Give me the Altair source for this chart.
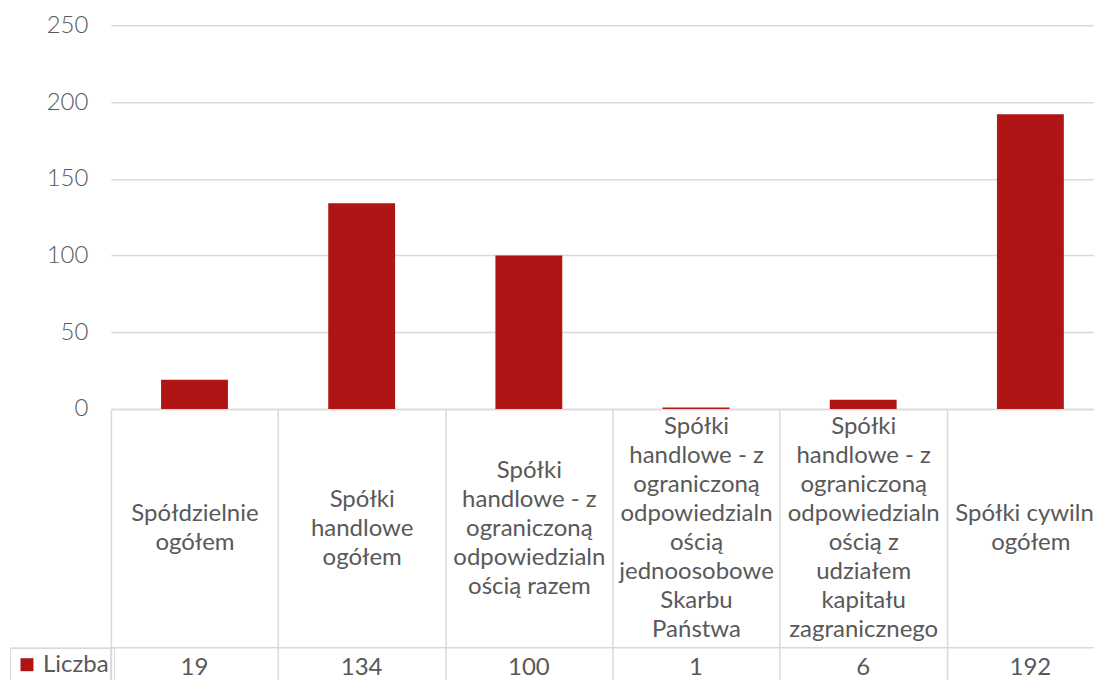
import altair as alt
import pandas as pd

# ---- data ----
categories = [
    ["Spółdzielnie", "ogółem"],
    ["Spółki", "handlowe", "ogółem"],
    ["Spółki", "handlowe - z", "ograniczoną", "odpowiedzialn", "ością razem"],
    ["Spółki", "handlowe - z", "ograniczoną", "odpowiedzialn", "ością",
     "jednoosobowe", "Skarbu", "Państwa"],
    ["Spółki", "handlowe - z", "ograniczoną", "odpowiedzialn", "ością z",
     "udziałem", "kapitału", "zagranicznego"],
    ["Spółki cywilne", "ogółem"],
]
values = [19, 134, 100, 1, 6, 192]
series_name = "Liczba"
y_ticks = [0, 50, 100, 150, 200, 250]

cat_keys = ["|".join(c) for c in categories]
df = pd.DataFrame({"cat": cat_keys, "value": values, "series": series_name})

# ---- styling ----
GREY = "#595959"
LINE = "#d9d9d9"
RED = "#b01515"
FONT = "Lato"
FS = 24
LH = 29
W = 1004      # plot width (extends past the window, as in the reference)
H = 384       # plot height
CELL = 239    # category-label cell height
ROW = 40      # value row height
LEFT = 101    # width of the "Liczba" cell

band = alt.Scale(type="band", paddingInner=0, paddingOuter=0)

# vertically centre the multi-line labels inside the label cell
pad_expr = (
    f"isValid(datum.value) ? {CELL / 2 - CELL} - "
    f"(length(split(datum.value, '|')) - 1) * {LH / 2} : 0"
)

bars = alt.Chart(df).mark_bar(color=RED, width=alt.RelativeBandSize(0.4)).encode(
    x=alt.X("cat:N", sort=cat_keys, scale=band, title=None,
            axis=alt.Axis(
                labelExpr="isValid(datum.value) ? split(datum.value, '|') : ''",
                labelFont=FONT, labelFontSize=FS, labelColor=GREY,
                labelLineHeight=LH, labelAngle=0, labelAlign="center",
                labelBaseline="middle", labelPadding=alt.ExprRef(expr=pad_expr),
                labelOverlap=False, labelLimit=400,
                tickBand="extent", tickSize=CELL, tickColor=LINE, tickWidth=1.5,
                domainColor=LINE, domainWidth=1.5, grid=False)),
    y=alt.Y("value:Q", scale=alt.Scale(domain=[0, 250]), title=None,
            axis=alt.Axis(values=y_ticks, grid=True, gridColor=LINE, gridWidth=1.5,
                          domain=False, ticks=False, labelFont=FONT,
                          labelFontSize=FS, labelFontWeight=300,
                          labelColor=GREY, labelPadding=23)),
).properties(width=W, height=H, view=alt.ViewBackground(strokeOpacity=0))

table = alt.Chart(df).mark_text(font=FONT, fontSize=FS, color=GREY).encode(
    x=alt.X("cat:N", sort=cat_keys, scale=band, title=None,
            axis=alt.Axis(labels=False, ticks=False, domain=False, grid=True,
                          gridColor=LINE, gridWidth=1.5, tickBand="extent")),
    y=alt.Y("series:N", scale=band, title=None,
            axis=alt.Axis(labels=False, domain=False, ticks=True,
                          tickBand="extent", tickSize=LEFT, tickColor=LINE,
                          tickWidth=1.5)),
    text="value:Q",
)

key = alt.Chart(df.head(1)).mark_square(opacity=0).encode(
    color=alt.Color("series:N", scale=alt.Scale(range=[RED]),
                    legend=alt.Legend(orient="none", legendX=-LEFT, legendY=0,
                                      title=None, symbolType="square",
                                      symbolSize=169, symbolOpacity=1,
                                      symbolFillColor=RED, symbolStrokeWidth=0,
                                      labelFont=FONT, labelFontSize=FS,
                                      labelColor=GREY, labelOffset=4, padding=5,
                                      strokeColor=LINE))
)

bottom = alt.layer(table, key).properties(
    width=W, height=ROW, view=alt.ViewBackground(stroke=LINE, strokeWidth=1.5))

chart = alt.vconcat(bars, bottom, spacing=CELL, bounds="flush").properties(
    padding={"left": 0, "top": 5, "right": -21, "bottom": -6}
).resolve_scale(x="shared").resolve_legend(color="independent")

chart.save("out.html", embed_options={"renderer": "svg", "actions": False})
